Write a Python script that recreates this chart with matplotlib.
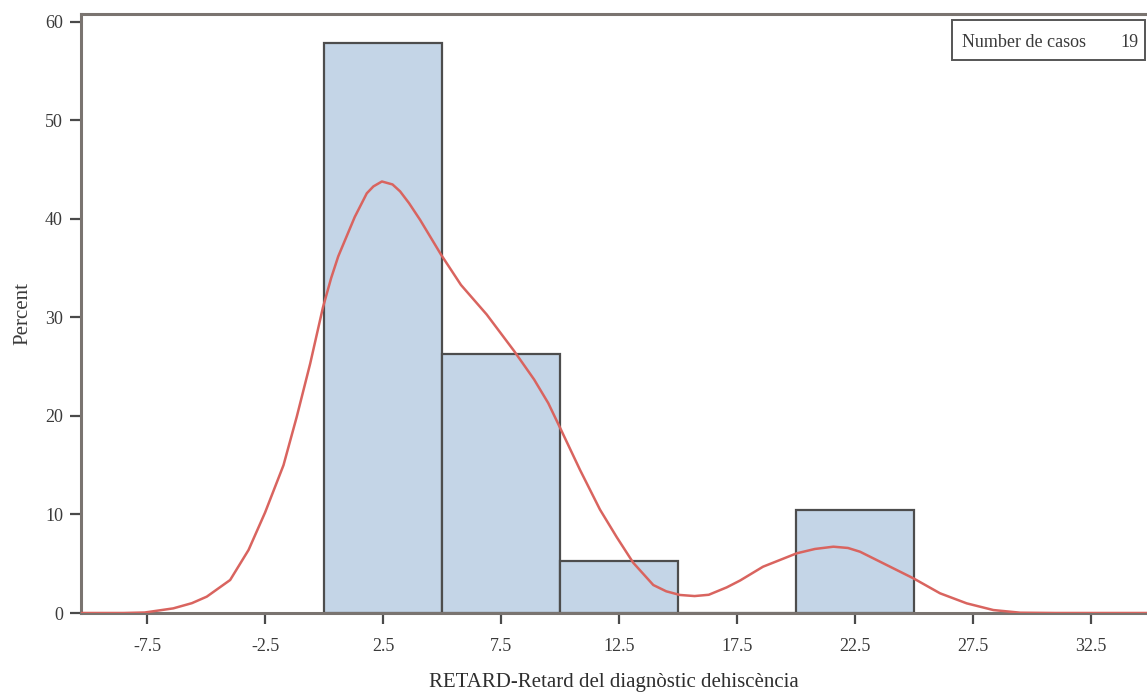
import matplotlib
matplotlib.use("Agg")
import matplotlib.pyplot as plt
from matplotlib.patches import Rectangle

# histogram bins (percent of 19 cases)
bin_edges = [0, 5, 10, 15, 20, 25]
percents = [57.9, 26.3, 5.26, 0.0, 10.5]

# kernel density curve
kde_x = [-10.5, -8.5, -7.6, -7.37, -6.39, -5.6, -4.97, -3.98, -3.2, -2.5,
         -1.72, -1.16, -0.59, -0.05, 0.3, 0.6, 1.3, 1.81, 2.09, 2.45, 2.9,
         3.22, 3.6, 4.07, 4.95, 5.8, 6.89, 8.05, 8.9, 9.5, 10.0,
         10.85, 11.69, 12.4, 13.1, 13.95, 14.5, 15.08, 15.7, 16.3, 17.06,
         17.63, 18.6, 20.03, 20.8, 21.58, 22.2, 22.71, 23.84, 24.97, 26.1,
         27.23, 28.36, 29.5, 31.0, 35.0]
kde_y = [0.0, 0.0, 0.05, 0.13, 0.47, 1.0, 1.66, 3.35, 6.4, 10.2,
         15.0, 19.9, 25.3, 31.0, 34.0, 36.2, 40.2, 42.6, 43.3, 43.8, 43.5,
         42.8, 41.6, 39.9, 36.4, 33.3, 30.3, 26.6, 23.7, 21.3, 18.8,
         14.5, 10.5, 7.7, 5.1, 2.84, 2.2, 1.83, 1.72, 1.85, 2.6,
         3.3, 4.7, 6.06, 6.5, 6.73, 6.6, 6.22, 4.87, 3.52, 2.0,
         0.98, 0.3, 0.03, 0.0, 0.0]

xticks = [-7.5, -2.5, 2.5, 7.5, 12.5, 17.5, 22.5, 27.5, 32.5]
yticks = [0, 10, 20, 30, 40, 50, 60]
n_cases = 19

plt.rcParams['font.family'] = ['Liberation Serif', 'DejaVu Serif']

fig = plt.figure(figsize=(11.47, 6.92), dpi=100)
ax = fig.add_axes([81 / 1147, 1 - 613 / 692, 1 - 81 / 1147, (613 - 14) / 692])

widths = [bin_edges[i + 1] - bin_edges[i] for i in range(len(percents))]
ax.bar(bin_edges[:-1], percents, width=widths, align='edge',
       color='#c4d5e7', edgecolor='#4d4d4d', linewidth=1.6, zorder=2)
ax.plot(kde_x, kde_y, color='#d9645f', linewidth=1.8, zorder=3,
        solid_joinstyle='round')

ax.set_xlim(-10.3, 34.87)
ax.set_ylim(0, 60.8)
ax.set_xticks(xticks)
ax.set_xticklabels([f'{t:g}' for t in xticks])
ax.set_yticks(yticks)

for s in ['left', 'bottom', 'top']:
    ax.spines[s].set_color('#7a7470')
    ax.spines[s].set_linewidth(2.2)
ax.spines['right'].set_visible(False)
ax.tick_params(direction='out', length=8, width=1.6, color='#4a4a4a',
               labelsize=13, labelcolor='#3a3a3a')
ax.tick_params(axis='x', pad=10)
ax.tick_params(axis='y', pad=5)

ax.set_xlabel('RETARD-Retard del diagnòstic dehiscència', fontsize=15,
              color='#2e2e2e', labelpad=13)
ax.set_ylabel('Percent', fontsize=15, color='#3a3a3a', labelpad=9)

# inset box with number of cases
ax.add_patch(Rectangle((0.817, 0.923), 0.181, 0.067, transform=ax.transAxes,
                       facecolor='white', edgecolor='#555555', linewidth=1.4,
                       zorder=4))
ax.text(0.826, 0.9516, 'Number de casos', transform=ax.transAxes, fontsize=13,
        va='center', ha='left', color='#3a3a3a', zorder=5)
ax.text(0.992, 0.9516, str(n_cases), transform=ax.transAxes, fontsize=13,
        va='center', ha='right', color='#3a3a3a', zorder=5)

fig.savefig('out.png', dpi=100)
